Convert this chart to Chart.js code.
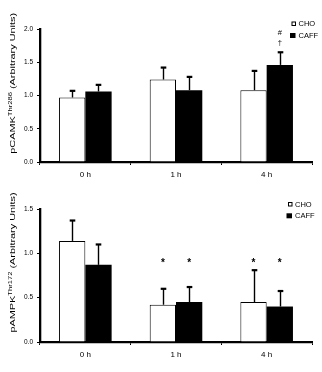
<!DOCTYPE html>
<html>
<head>
<meta charset="utf-8">
<script src="https://cdn.jsdelivr.net/npm/chart.js@4.4.1/dist/chart.umd.min.js"></script>
<style>
  html,body{margin:0;padding:0;background:#fff;}
  #wrap{position:relative;width:322px;height:372px;overflow:hidden;}
  canvas{position:absolute;left:0;}
</style>
</head>
<body>
<div id="wrap">
  <canvas id="c1" width="322" height="180" style="top:0;width:322px;height:180px"></canvas>
  <canvas id="c2" width="322" height="192" style="top:180px;width:322px;height:192px"></canvas>
</div>
<script>
// ---- data ----
const categories = ['0 h', '1 h', '4 h'];
const seriesNames = ['CHO', 'CAFF'];

const camkCHO     = [0.97, 1.24, 1.08];
const camkCHOErr  = [0.10, 0.18, 0.29];
const camkCAFF    = [1.06, 1.08, 1.46];
const camkCAFFErr = [0.10, 0.20, 0.19];
const camkCHOMarks  = [[], [], []];
const camkCAFFMarks = [[], [], ['#', '\u2020']];

const ampkCHO     = [1.14, 0.42, 0.45];
const ampkCHOErr  = [0.23, 0.18, 0.36];
const ampkCAFF    = [0.87, 0.45, 0.40];
const ampkCAFFErr = [0.23, 0.17, 0.175];
const ampkCHOMarks  = [[], ['*'], ['*']];
const ampkCAFFMarks = [[], ['*'], ['*']];

const camkTicks = [0, 0.5, 1.0, 1.5, 2.0];
const ampkTicks = [0, 0.5, 1.0, 1.5];

const FONT = "'Liberation Sans', Arial, sans-serif";
const NARROW = "'Liberation Sans Narrow', 'Liberation Sans', Arial, sans-serif";

// ---- plugins ----
const extrasPlugin = {
  id: 'extras',
  afterDatasetsDraw(chart, args, opts) {
    const ctx = chart.ctx;
    const y = chart.scales.y;
    ctx.save();
    ctx.strokeStyle = '#000';
    // error bars
    let markBase = Infinity;
    chart.data.datasets.forEach((ds, i) => {
      const meta = chart.getDatasetMeta(i);
      meta.data.forEach((bar, j) => {
        const v = ds.data[j], e = ds.errors[j];
        const yTop = y.getPixelForValue(v + e);
        const yBar = y.getPixelForValue(v);
        const x = Math.round(bar.x) + 0.5;
        ctx.lineWidth = 1.4;
        ctx.beginPath();
        ctx.moveTo(x, yBar);
        ctx.lineTo(x, yTop);
        ctx.stroke();
        ctx.lineWidth = 2.2;
        ctx.beginPath();
        ctx.moveTo(x - 2.8, yTop);
        ctx.lineTo(x + 2.8, yTop);
        ctx.stroke();
        if (ds.marks[j].length) markBase = Math.min(markBase, yTop);
      });
    });
    // significance marks
    ctx.fillStyle = '#000';
    ctx.textAlign = 'center';
    chart.data.datasets.forEach((ds, i) => {
      const meta = chart.getDatasetMeta(i);
      meta.data.forEach((bar, j) => {
        const m = ds.marks[j];
        for (let k = 0; k < m.length; k++) {
          const sym = m[m.length - 1 - k];
          const cy = markBase - 9.5 - k * 10;
          if (sym === '*') {
            ctx.font = 'bold 10px ' + FONT;
            ctx.textBaseline = 'alphabetic';
            ctx.fillText(sym, bar.x, cy + 5.5);
          } else {
            ctx.font = '7.5px ' + FONT;
            ctx.textBaseline = 'middle';
            ctx.fillText(sym, bar.x, cy);
          }
        }
      });
    });
    // legend
    const L = opts.legend;
    ctx.textAlign = 'left';
    ctx.textBaseline = 'middle';
    ctx.font = '7.5px ' + NARROW;
    chart.data.datasets.forEach((ds, i) => {
      const ly = L.rows[i];
      if (i === 0) {
        ctx.lineWidth = 1;
        ctx.fillStyle = '#fff';
        ctx.fillRect(L.x - 4, ly - 2, 4, 4);
        ctx.strokeRect(L.x - 4 + 0.5, ly - 2 + 0.5, 3.5, 3.5);
      } else {
        ctx.fillStyle = '#000';
        ctx.fillRect(L.x - 5.5, ly - 2.5, 5.5, 5);
      }
      ctx.fillStyle = '#000';
      ctx.fillText(ds.label, L.x + 3, ly + 0.5);
    });
    // y title with superscript
    const T = opts.title;
    const mainF = 8, supF = 5.6, stretch = 1.36;
    ctx.font = mainF + 'px ' + FONT;
    const w1 = ctx.measureText(T.pre).width;
    const w3 = ctx.measureText(T.post).width;
    ctx.font = supF + 'px ' + FONT;
    const w2 = ctx.measureText(T.sup).width;
    const total = w1 + w2 + w3;
    ctx.translate(T.x, T.cy);
    ctx.rotate(-Math.PI / 2);
    ctx.scale(stretch, 1);
    ctx.textAlign = 'left';
    ctx.textBaseline = 'alphabetic';
    let cx = -total / 2;
    ctx.font = mainF + 'px ' + FONT;
    ctx.fillText(T.pre, cx, 0); cx += w1;
    ctx.font = supF + 'px ' + FONT;
    ctx.fillText(T.sup, cx, -2.7); cx += w2;
    ctx.font = mainF + 'px ' + FONT;
    ctx.fillText(T.post, cx, 0);
    ctx.restore();
  }
};

function makeChart(id, choVals, choErr, choMarks, cafVals, cafErr, cafMarks, ticks, title, legend, padBottom) {
  const maxV = ticks[ticks.length - 1];
  return new Chart(document.getElementById(id), {
    type: 'bar',
    data: {
      labels: categories,
      datasets: [
        { label: seriesNames[0], data: choVals, errors: choErr, marks: choMarks,
          backgroundColor: '#fff', borderColor: '#000', borderWidth: 1,
          barPercentage: 1.0, categoryPercentage: 0.58 },
        { label: seriesNames[1], data: cafVals, errors: cafErr, marks: cafMarks,
          backgroundColor: '#000', borderColor: '#000', borderWidth: 0,
          barPercentage: 1.0, categoryPercentage: 0.58 }
      ]
    },
    options: {
      responsive: false,
      animation: false,
      devicePixelRatio: 1,
      layout: { padding: { left: 0, right: 10, top: 29, bottom: padBottom } },
      plugins: {
        legend: { display: false },
        tooltip: { enabled: false },
        extras: { title: title, legend: legend }
      },
      scales: {
        x: {
          grid: { display: true, drawOnChartArea: false, drawTicks: true, tickLength: 3, color: '#000', lineWidth: 1, offset: true },
          border: { display: true, color: '#000', width: 2.3 },
          ticks: { color: '#000', font: { family: FONT, size: 8 }, padding: 5, maxRotation: 0 },
          afterFit(s) { s.height = 18; }
        },
        y: {
          min: 0, max: maxV,
          afterBuildTicks(s) { s.ticks = ticks.map(v => ({ value: v })); },
          grid: { display: true, drawOnChartArea: false, drawTicks: true, tickLength: 3, color: '#000', lineWidth: 1 },
          border: { display: true, color: '#000', width: 2.3 },
          ticks: { color: '#000', font: { family: FONT, size: 6.5 }, padding: 4,
                   callback: v => Number(v).toFixed(1) },
          afterFit(s) { s.width = 40; }
        }
      }
    },
    plugins: [extrasPlugin]
  });
}

makeChart('c1', camkCHO, camkCHOErr, camkCHOMarks, camkCAFF, camkCAFFErr, camkCAFFMarks,
  camkTicks, { pre: 'pCAMK', sup: 'Thr286', post: ' (Arbitrary Units)', x: 15, cy: 83.3 },
  { x: 295.5, rows: [23.5, 35.5] }, 0);
makeChart('c2', ampkCHO, ampkCHOErr, ampkCHOMarks, ampkCAFF, ampkCAFFErr, ampkCAFFMarks,
  ampkTicks, { pre: 'pAMPK', sup: 'Thr172', post: ' (Arbitrary Units)', x: 15, cy: 82.5 },
  { x: 292, rows: [24, 35.8] }, 12);
</script>
</body>
</html>
